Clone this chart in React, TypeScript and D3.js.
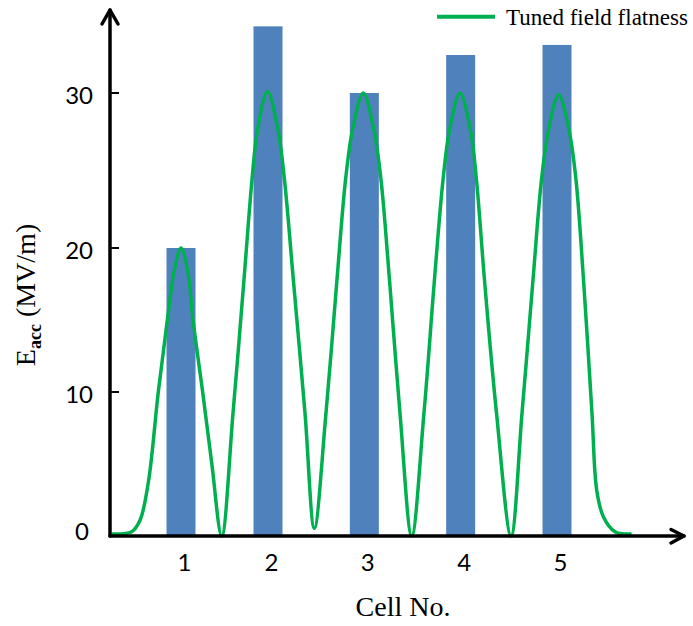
import React from "react";
import * as d3 from "d3";

const cells = [1, 2, 3, 4, 5];
const barValues = [20, 34.3, 30.0, 32.45, 33.1];
const yTicks = [0, 10, 20, 30];
const xLabels = ["1", "2", "3", "4", "5"];

// Tuned field flatness curve (cell position, Eacc)
const curveX = [
  0.203, 0.433, 0.529, 0.624, 0.739, 0.843, 0.925, 1.0, 1.075, 1.138, 1.249, 1.353, 1.468,
  1.598, 1.724, 1.816, 1.879, 1.994, 2.104, 2.171, 2.263, 2.384, 2.481,
  2.602, 2.716, 2.805, 2.877, 2.989, 3.1, 3.173, 3.261, 3.37, 3.492,
  3.619, 3.728, 3.817, 3.884, 3.993, 4.102, 4.164, 4.247, 4.372, 4.523,
  4.637, 4.751, 4.839, 4.912, 5.016, 5.125, 5.197, 5.275, 5.363, 5.412, 5.481, 5.602, 5.775,
];
const curveY = [
  0.14, 0.3, 1.1, 3.7, 10, 15, 18.5, 20, 18.5, 15, 10, 5.07, 0,
  8.54, 17.8, 24.4, 27.6, 30.1, 27.6, 24.4, 17.8, 8.54, 0.53,
  8.54, 17.8, 24.4, 27.6, 30.0, 27.6, 24.4, 17.8, 8.54, 0,
  8.54, 17.8, 24.4, 27.6, 30.0, 27.6, 24.4, 17.8, 8.54, 0,
  8.54, 17.8, 24.4, 27.6, 29.9, 27.6, 24.4, 17.8, 8.54, 3.2, 1.34, 0.3, 0.14,
];

const legendLabel = "Tuned field flatness";
const xTitle = "Cell No.";

const W = 693;
const H = 626;

export default function App() {
  const x = d3.scaleLinear().domain([1, 2, 5]).range([181, 268, 557]);
  const y = d3.scaleLinear().domain([0, 10, 20, 30]).range([536, 392, 248, 93]);
  const axisX = 110;
  const axisY = 536;
  const barW = 29;

  const pts: [number, number][] = curveX.map((cx, i) => [cx, curveY[i]]);
  const line = d3
    .line<[number, number]>()
    .x((d) => x(d[0]))
    .y((d) => y(d[1]))
    .curve(d3.curveCatmullRom.alpha(0.5));

  const green = "#00b050";
  const blue = "#4f81bd";
  const sans = "Lato, 'Open Sans', sans-serif";
  const serif = "'Liberation Serif', 'DejaVu Serif', serif";

  return (
    <svg
      width={W}
      height={H}
      style={{ position: "absolute", left: 0, top: 0, background: "#fff" }}
    >
      <rect x={0} y={0} width={W} height={H} fill="#fff" />
      {/* bars */}
      {cells.map((c, i) => (
        <rect
          key={c}
          x={x(c) - barW / 2}
          y={y(barValues[i])}
          width={barW}
          height={y(0) - y(barValues[i])}
          fill={blue}
        />
      ))}
      {/* curve */}
      <path d={line(pts) || ""} fill="none" stroke={green} strokeWidth={3.5} strokeLinejoin="round" />
      {/* axes */}
      <g stroke="#000" strokeWidth={3.5} fill="none" strokeLinecap="round" strokeLinejoin="round">
        <line x1={axisX} y1={axisY} x2={axisX} y2={10} />
        <polyline points={`${axisX - 8},${24} ${axisX},${10} ${axisX + 8},${24}`} />
        <line x1={axisX} y1={axisY} x2={684} y2={axisY} />
        <polyline points={`${671},${529.5} ${684},${axisY} ${671},${543}`} />
      </g>
      {/* y ticks */}
      {yTicks
        .filter((t) => t !== 0)
        .map((t) => (
          <line key={t} x1={axisX} x2={axisX + 9} y1={y(t)} y2={y(t)} stroke="#000" strokeWidth={2} />
        ))}
      {yTicks.map((t) => (
        <text
          key={t}
          x={t === 0 ? 89 : 93}
          y={y(t) + (t === 0 ? -2 : 5)}
          textAnchor="end"
          dominantBaseline="middle"
          fontFamily={sans}
          fontSize={24}
          fill="#000"
        >
          {t}
        </text>
      ))}
      {/* x labels */}
      {cells.map((c, i) => (
        <text
          key={c}
          x={x(c) + 3.5}
          y={571}
          textAnchor="middle"
          fontFamily={sans}
          fontSize={24}
          fill="#000"
        >
          {xLabels[i]}
        </text>
      ))}
      {/* titles */}
      <text x={403} y={616} textAnchor="middle" fontFamily={serif} fontSize={28} fill="#000">
        {xTitle}
      </text>
      <text
        transform="translate(35,295) rotate(-90)"
        textAnchor="middle"
        fontFamily={serif}
        fontSize={28}
        fill="#000"
      >
        E
        <tspan fontSize={18} dy={6} fontWeight="bold">acc</tspan>
        <tspan dy={-6}> (MV/m)</tspan>
      </text>
      {/* legend */}
      <line x1={437} x2={495} y1={16.7} y2={16.7} stroke={green} strokeWidth={4} />
      <text x={506} y={25} fontFamily={serif} fontSize={23} fill="#000">
        {legendLabel}
      </text>
    </svg>
  );
}
